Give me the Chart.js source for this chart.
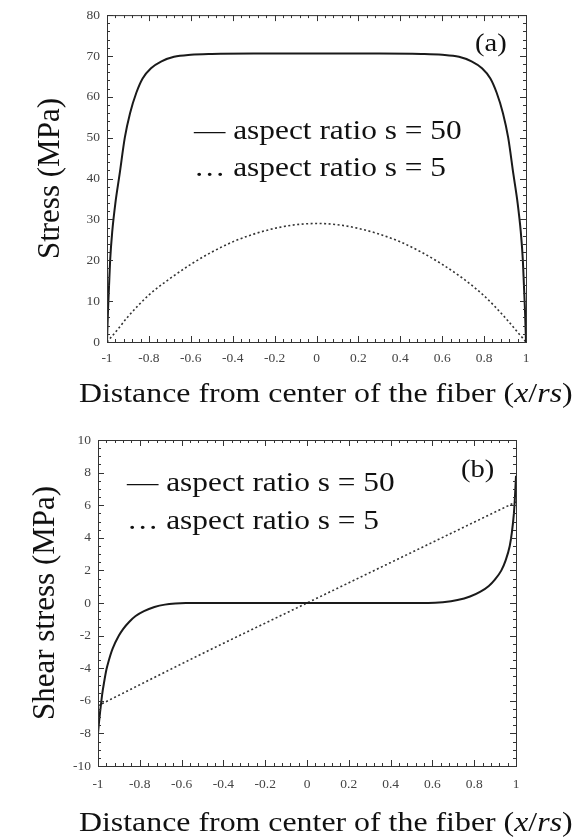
<!DOCTYPE html>
<html>
<head>
<meta charset="utf-8">
<script src="https://cdn.jsdelivr.net/npm/chart.js@4.4.1/dist/chart.umd.min.js"></script>
<style>
  body { margin: 0; background: #fff; }
  #wrap { position: relative; width: 576px; height: 839px; background: #fff; overflow: hidden; }
  .panel { position: absolute; left: 0; width: 576px; }
  .txt { position: absolute; font-family: "Liberation Serif", "DejaVu Serif", serif; color: #111; white-space: nowrap; transform-origin: 0 50%; }
  .leg { font-size: 28px; line-height: 32px; transform: scaleX(1.12); }
  .xt { font-size: 27px; line-height: 32px; transform: scaleX(1.18); }
  .tag { font-size: 26px; line-height: 30px; transform: scaleX(1.1); }
</style>
</head>
<body>
<div id="wrap">
  <div class="panel" style="top:0;height:410px"><canvas id="chart-a"></canvas></div>
  <div class="panel" style="top:420px;height:419px"><canvas id="chart-b"></canvas></div>

  <div class="txt tag" style="left:475px;top:28px">(a)</div>
  <div class="txt leg" style="left:194px;top:114px">— aspect ratio s = 50</div>
  <div class="txt leg" style="left:194px;top:151px">… aspect ratio s = 5</div>
  <div class="txt xt" style="left:79px;top:377px">Distance from center of the fiber (<i>x</i>/<i>rs</i>)</div>

  <div class="txt tag" style="left:461px;top:454px">(b)</div>
  <div class="txt leg" style="left:127px;top:466px">— aspect ratio s = 50</div>
  <div class="txt leg" style="left:127px;top:504px">… aspect ratio s = 5</div>
  <div class="txt xt" style="left:79px;top:806px">Distance from center of the fiber (<i>x</i>/<i>rs</i>)</div>
</div>
<script>
// (a) axial stress along the fiber
const xStressS50 = [-1, -0.995, -0.99, -0.985, -0.975, -0.96, -0.94, -0.915, -0.89, -0.86, -0.83, -0.79, -0.74, -0.68, -0.6, -0.5, -0.3, 0,
                    0.3, 0.5, 0.6, 0.68, 0.74, 0.79, 0.83, 0.86, 0.89, 0.915, 0.94, 0.96, 0.975, 0.985, 0.99, 0.995, 1];
const stressS50 = [0, 8, 14, 20, 27, 34, 41, 50, 56, 61, 64.5, 67, 68.7, 69.8, 70.3, 70.5, 70.6, 70.6,
                   70.6, 70.5, 70.3, 69.8, 68.7, 67, 64.5, 61, 56, 50, 41, 34, 27, 20, 14, 8, 0];
const xStressS5 = [-1, -0.95, -0.9, -0.8, -0.7, -0.6, -0.5, -0.4, -0.3, -0.2, -0.1, 0, 0.1, 0.2, 0.3, 0.4, 0.5, 0.6, 0.7, 0.8, 0.9, 0.95, 1];
const stressS5 = [0, 3, 6.2, 11.5, 15.5, 19, 22, 24.5, 26.4, 27.8, 28.7, 29, 28.7, 27.8, 26.4, 24.5, 22, 19, 15.5, 11.3, 6, 3, 0];

// (b) interfacial shear stress
const xShearS50 = [-1, -0.995, -0.99, -0.98, -0.97, -0.96, -0.95, -0.93, -0.9, -0.88, -0.85, -0.82, -0.78, -0.73, -0.68, -0.63, -0.58, 0,
                   0.58, 0.65, 0.72, 0.78, 0.83, 0.87, 0.9, 0.93, 0.95, 0.97, 0.98, 0.99, 0.995, 1];
const shearS50 = [-8, -7.3, -6.7, -5.6, -4.8, -4.1, -3.6, -2.8, -2, -1.6, -1.15, -0.8, -0.5, -0.25, -0.1, -0.03, 0, 0,
                  0, 0.05, 0.18, 0.4, 0.7, 1.05, 1.45, 2.0, 2.6, 3.5, 4.3, 5.5, 6.5, 7.8];
const xShearS5 = [-1, -0.5, 0, 0.5, 1];
const shearS5 = [-6.3, -3.1, 0, 3.1, 6.2];

const xTicks = { min: -1, max: 1, step: 0.2, minor: 0.04 };
const yTicksA = { min: 0, max: 80, step: 10, minor: 2 };
const yTicksB = { min: -10, max: 10, step: 2, minor: 0.5 };

const serif = '"Liberation Serif", "DejaVu Serif", serif';

function pts(xs, ys) { return xs.map((x, i) => ({ x: x, y: ys[i] })); }

// box frame + inward major/minor ticks on all four sides
const frameTicks = {
    id: 'frameTicks',
    afterDatasetsDraw(chart, args, opts) {
        const { ctx, chartArea: a, scales } = chart;
        const sx = scales.x, sy = scales.y;
        ctx.save();
        ctx.strokeStyle = '#333';
        ctx.lineWidth = 1;
        ctx.strokeRect(a.left + 0.5, a.top + 0.5, a.right - a.left, a.bottom - a.top);
        ctx.beginPath();
        const nx = Math.round((opts.x.max - opts.x.min) / opts.x.minor);
        for (let i = 0; i <= nx; i++) {
            const v = opts.x.min + i * opts.x.minor;
            const major = i % Math.round(opts.x.step / opts.x.minor) === 0;
            const len = major ? 6 : 3;
            const px = Math.round(sx.getPixelForValue(v)) + 0.5;
            ctx.moveTo(px, a.bottom); ctx.lineTo(px, a.bottom - len);
            ctx.moveTo(px, a.top); ctx.lineTo(px, a.top + len);
        }
        const ny = Math.round((opts.y.max - opts.y.min) / opts.y.minor);
        for (let i = 0; i <= ny; i++) {
            const v = opts.y.min + i * opts.y.minor;
            const major = i % Math.round(opts.y.step / opts.y.minor) === 0;
            const len = major ? 6 : 3;
            const py = Math.round(sy.getPixelForValue(v)) + 0.5;
            ctx.moveTo(a.left, py); ctx.lineTo(a.left + len, py);
            ctx.moveTo(a.right, py); ctx.lineTo(a.right - len, py);
        }
        ctx.stroke();
        ctx.restore();
    }
};

function fmtTick(v) {
    return String(Math.round(v * 10) / 10);
}

function makeChart(id, solid, dotted, yT, yTitle, geo) {
    return new Chart(document.getElementById(id).getContext('2d'), {
        type: 'scatter',
        data: {
            datasets: [
                {
                    label: 'aspect ratio s = 50',
                    data: solid,
                    showLine: true,
                    borderColor: '#1a1a1a',
                    borderWidth: 2,
                    pointRadius: 0,
                    cubicInterpolationMode: 'monotone',
                    fill: false
                },
                {
                    label: 'aspect ratio s = 5',
                    data: dotted,
                    showLine: true,
                    borderColor: '#333',
                    borderWidth: 1.6,
                    borderDash: [2, 2.5],
                    pointRadius: 0,
                    cubicInterpolationMode: 'monotone',
                    fill: false
                }
            ]
        },
        options: {
            responsive: true,
            maintainAspectRatio: false,
            animation: false,
            layout: { padding: { top: geo.top, right: geo.right, left: 0, bottom: 0 } },
            scales: {
                x: {
                    type: 'linear', min: xTicks.min, max: xTicks.max,
                    grid: { display: false, drawTicks: false },
                    border: { display: false },
                    ticks: { stepSize: xTicks.step, padding: geo.xPad, color: '#444', font: { family: serif, size: 13.5 }, callback: fmtTick },
                    afterFit: s => { s.height = geo.xH; }
                },
                y: {
                    type: 'linear', min: yT.min, max: yT.max,
                    grid: { display: false, drawTicks: false },
                    border: { display: false },
                    ticks: { stepSize: yT.step, padding: 7, color: '#444', font: { family: serif, size: 13.5 }, callback: fmtTick },
                    title: { display: true, text: yTitle, color: '#111', font: { family: serif, size: 31 }, padding: { top: geo.titlePad, bottom: 0 } },
                    afterFit: s => { s.width = geo.yW; }
                }
            },
            plugins: {
                legend: { display: false },
                tooltip: { enabled: false },
                frameTicks: { x: xTicks, y: yT }
            }
        },
        plugins: [frameTicks]
    });
}

makeChart('chart-a', pts(xStressS50, stressS50), pts(xStressS5, stressS5), yTicksA, 'Stress (MPa)',
    { top: 15, right: 50, xH: 68, yW: 107, xPad: 8, titlePad: 32 });
makeChart('chart-b', pts(xShearS50, shearS50), pts(xShearS5, shearS5), yTicksB, 'Shear stress (MPa)',
    { top: 20, right: 60, xH: 73, yW: 98, xPad: 10, titlePad: 27 });
</script>
</body>
</html>
